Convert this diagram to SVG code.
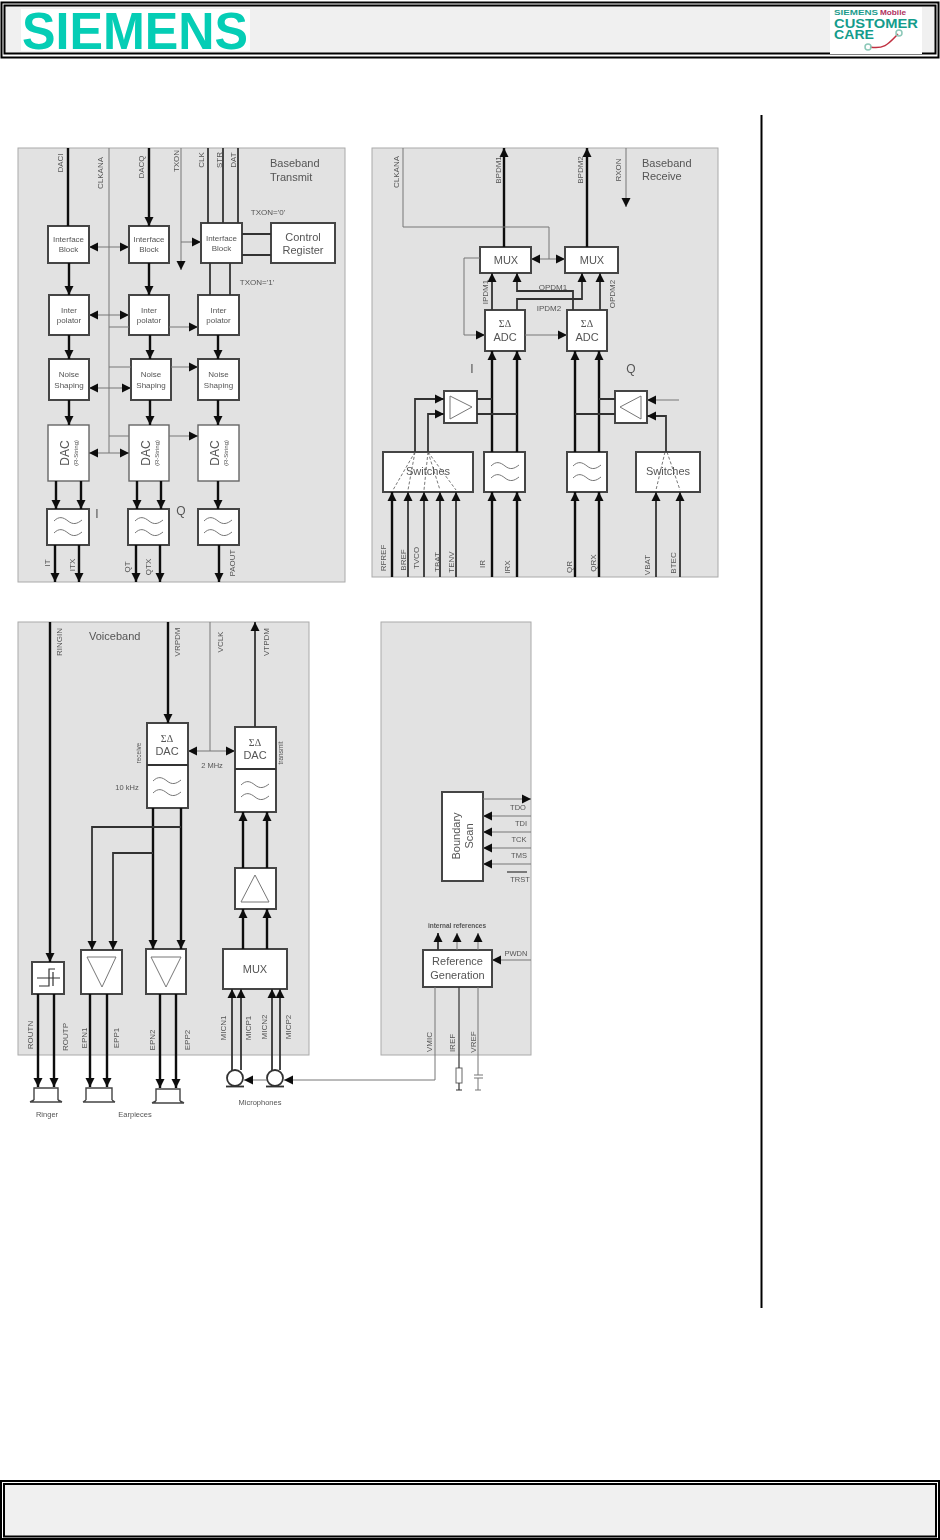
<svg xmlns="http://www.w3.org/2000/svg" xmlns:xlink="http://www.w3.org/1999/xlink" width="940" height="1540" viewBox="0 0 940 1540">
<style>
text{font-family:"Liberation Sans",Arial,sans-serif;fill:#555}
.panel{fill:#e2e2e2;stroke:#aaa;stroke-width:1}
.b{fill:#fff;stroke:#444;stroke-width:2}
.b1{fill:#fff;stroke:#666;stroke-width:1.4}
.sym{fill:none;stroke:#777;stroke-width:1}
.c{text-anchor:middle}
.s8{font-size:8px}.s7{font-size:7.5px}.s11{font-size:11px}.s12{font-size:12px}
.sig{font-size:8px;text-anchor:middle}
.t{fill:none;stroke:#111;stroke-width:2.4}
.m{fill:none;stroke:#333;stroke-width:1.8}
.n{fill:none;stroke:#777;stroke-width:1}
.h{marker-end:url(#a)}
.d{marker-start:url(#s);marker-end:url(#a)}
.dash{fill:none;stroke:#555;stroke-width:.8;stroke-dasharray:3 2}
.sd{font-family:"Liberation Serif",serif;font-size:10px}
</style>
<defs>
<marker id="a" markerUnits="userSpaceOnUse" markerWidth="10" markerHeight="10" refX="9" refY="5" orient="auto"><path d="M0,0.5L9,5L0,9.5Z" fill="#111"/></marker>
<marker id="s" markerUnits="userSpaceOnUse" markerWidth="10" markerHeight="10" refX="0" refY="5" orient="auto"><path d="M9,0.5L0,5L9,9.5Z" fill="#111"/></marker>
<g id="wave"><path class="sym" d="M-14,-6C-9,-11 -5,-10 0,-6S9,-3 14,-7M-14,6C-9,1 -5,2 0,6S9,9 14,5"/></g>
<filter id="soft" filterUnits="userSpaceOnUse" x="0" y="100" width="940" height="1060"><feGaussianBlur stdDeviation="0.6"/></filter>
</defs>
<rect width="940" height="1540" fill="#fff"/>
<g id="header">
<rect x="1.5" y="2.5" width="937" height="55" fill="#fff" stroke="#000" stroke-width="2"/>
<rect x="4.5" y="5.5" width="931" height="48" fill="#f0f0f0" stroke="#000" stroke-width="2"/>
<rect x="21" y="9" width="229" height="42" fill="#fff"/>
<text x="22" y="49" font-size="52" font-weight="bold" textLength="226" lengthAdjust="spacingAndGlyphs" style="fill:#05cdb5">SIEMENS</text>
<rect x="830" y="7" width="92" height="47" fill="#fff"/>
<text x="834" y="15" font-size="7" font-weight="bold" textLength="44" lengthAdjust="spacingAndGlyphs" style="fill:#1c9c8c">SIEMENS</text>
<text x="880" y="15" font-size="7" font-weight="bold" textLength="26" lengthAdjust="spacingAndGlyphs" style="fill:#b03060">Mobile</text>
<text x="834" y="28" font-size="13.500" font-weight="bold" textLength="84" lengthAdjust="spacingAndGlyphs" style="fill:#149c8c">CUSTOMER</text>
<text x="834" y="39" font-size="13.500" font-weight="bold" textLength="40" lengthAdjust="spacingAndGlyphs" style="fill:#149c8c">CARE</text>
<path d="M870,47C885,50 890,42 898,34" fill="none" stroke="#c03040" stroke-width="1.5"/>
<circle cx="868" cy="47" r="3" fill="none" stroke="#8cc8b8" stroke-width="1.5"/>
<circle cx="899" cy="33" r="3" fill="none" stroke="#8cc8b8" stroke-width="1.5"/>
</g>
<rect id="margin-bar" x="760.5" y="115" width="2" height="1193" fill="#000"/>
<g id="footer">
<rect x="1" y="1481" width="938" height="58" fill="#fff" stroke="#000" stroke-width="2"/>
<rect x="4" y="1484" width="932" height="52.500" fill="#f0f0f0" stroke="#000" stroke-width="2"/>
</g>
<g filter="url(#soft)">
<rect id="panel-transmit" class="panel" x="18" y="148" width="327" height="434"/>
<rect id="panel-receive" class="panel" x="372" y="148" width="346" height="429"/>
<rect id="panel-voice" class="panel" x="18" y="622" width="291" height="433"/>
<rect id="panel-ref" class="panel" x="381" y="622" width="150" height="433"/>

<g id="tx-if1"><rect class="b" x="48" y="226" width="41" height="37"/><text class="c s8" x="68.500" y="242">Interface</text><text class="c s8" x="68.500" y="252">Block</text></g>
<g id="tx-if2"><rect class="b" x="129" y="226" width="40" height="37"/><text class="c s8" x="149" y="242">Interface</text><text class="c s8" x="149" y="252">Block</text></g>
<g id="tx-if3"><rect class="b" x="201" y="223" width="41" height="40"/><text class="c s8" x="221.500" y="241">Interface</text><text class="c s8" x="221.500" y="251">Block</text></g>
<g id="tx-ctrl"><rect class="b" x="271" y="223" width="64" height="40"/><text class="c s11" x="303" y="241">Control</text><text class="c s11" x="303" y="254">Register</text></g>
<g id="tx-int1"><rect class="b" x="49" y="295" width="40" height="40"/><text class="c s8" x="69" y="313">Inter</text><text class="c s8" x="69" y="323">polator</text></g>
<g id="tx-int2"><rect class="b" x="129" y="295" width="40" height="40"/><text class="c s8" x="149" y="313">Inter</text><text class="c s8" x="149" y="323">polator</text></g>
<g id="tx-int3"><rect class="b" x="198" y="295" width="41" height="40"/><text class="c s8" x="218.500" y="313">Inter</text><text class="c s8" x="218.500" y="323">polator</text></g>
<g id="tx-ns1"><rect class="b" x="49" y="359" width="40" height="41"/><text class="c s8" x="69" y="377">Noise</text><text class="c s8" x="69" y="388">Shaping</text></g>
<g id="tx-ns2"><rect class="b" x="131" y="359" width="40" height="41"/><text class="c s8" x="151" y="377">Noise</text><text class="c s8" x="151" y="388">Shaping</text></g>
<g id="tx-ns3"><rect class="b" x="198" y="359" width="41" height="41"/><text class="c s8" x="218.500" y="377">Noise</text><text class="c s8" x="218.500" y="388">Shaping</text></g>
<g id="tx-dac1"><rect class="b1" x="48" y="425" width="41" height="56"/><text class="c s12" transform="translate(69,453) rotate(-90)">DAC</text><text class="c" font-size="6" transform="translate(78,453) rotate(-90)">(R-String)</text></g>
<g id="tx-dac2"><rect class="b1" x="129" y="425" width="40" height="56"/><text class="c s12" transform="translate(150,453) rotate(-90)">DAC</text><text class="c" font-size="6" transform="translate(159,453) rotate(-90)">(R-String)</text></g>
<g id="tx-dac3"><rect class="b1" x="198" y="425" width="41" height="56"/><text class="c s12" transform="translate(219,453) rotate(-90)">DAC</text><text class="c" font-size="6" transform="translate(228,453) rotate(-90)">(R-String)</text></g>
<g id="tx-f1"><rect class="b" x="47" y="509" width="42" height="36"/><use href="#wave" x="68" y="527"/></g>
<g id="tx-f2"><rect class="b" x="128" y="509" width="41" height="36"/><use href="#wave" x="149" y="527"/></g>
<g id="tx-f3"><rect class="b" x="198" y="509" width="41" height="36"/><use href="#wave" x="218" y="527"/></g>

<g id="rx-mux1"><rect class="b" x="480" y="247" width="51" height="26"/><text class="c s11" x="506" y="264">MUX</text></g>
<g id="rx-mux2"><rect class="b" x="565" y="247" width="53" height="26"/><text class="c s11" x="592" y="264">MUX</text></g>
<g id="rx-adc1"><rect class="b" x="485" y="310" width="40" height="41"/><text class="c sd" x="505" y="327">ΣΔ</text><text class="c s11" x="505" y="341">ADC</text></g>
<g id="rx-adc2"><rect class="b" x="567" y="310" width="40" height="41"/><text class="c sd" x="587" y="327">ΣΔ</text><text class="c s11" x="587" y="341">ADC</text></g>
<g id="rx-amp1"><rect class="b" x="444" y="391" width="33" height="32"/><path class="sym" d="M450,396L472,407L450,419Z"/></g>
<g id="rx-amp2"><rect class="b" x="615" y="391" width="32" height="32"/><path class="sym" d="M641,396L620,407L641,419Z"/></g>
<g id="rx-sw1"><rect class="b" x="383" y="452" width="90" height="40"/><text class="c s11" x="428" y="475">Switches</text></g>
<g id="rx-f1"><rect class="b" x="484" y="452" width="41" height="40"/><use href="#wave" x="505" y="472"/></g>
<g id="rx-f2"><rect class="b" x="567" y="452" width="40" height="40"/><use href="#wave" x="587" y="472"/></g>
<g id="rx-sw2"><rect class="b" x="636" y="452" width="64" height="40"/><text class="c s11" x="668" y="475">Switches</text></g>

<g id="vb-dac1"><rect class="b" x="147" y="723" width="41" height="85"/><path class="m" d="M147,765H188"/><text class="c sd" x="167" y="742">ΣΔ</text><text class="c s11" x="167" y="755">DAC</text><use href="#wave" x="167" y="787"/></g>
<g id="vb-dac2"><rect class="b" x="235" y="727" width="41" height="85"/><path class="m" d="M235,769H276"/><text class="c sd" x="255" y="746">ΣΔ</text><text class="c s11" x="255" y="759">DAC</text><use href="#wave" x="255" y="791"/></g>
<g id="vb-amp"><rect class="b" x="235" y="868" width="41" height="41"/><path class="sym" d="M241,902H269L255,875Z"/></g>
<g id="vb-mux"><rect class="b" x="223" y="949" width="64" height="40"/><text class="c s11" x="255" y="973">MUX</text></g>
<g id="vb-ring"><rect class="b" x="32" y="962" width="32" height="32"/><path fill="none" stroke="#333" stroke-width="1.2" d="M37,978H60M39,986H49V969H55M53,986V972"/></g>
<g id="vb-ear1"><rect class="b" x="81" y="950" width="41" height="44"/><path class="sym" d="M87,957H116L102,987Z"/></g>
<g id="vb-ear2"><rect class="b" x="146" y="949" width="40" height="45"/><path class="sym" d="M151,957H181L166,987Z"/></g>
<g id="mic1"><circle cx="235" cy="1078" r="8" fill="#fff" stroke="#333" stroke-width="1.8"/><path class="m" d="M226,1086.500H244"/></g>
<g id="mic2"><circle cx="275" cy="1078" r="8" fill="#fff" stroke="#333" stroke-width="1.8"/><path class="m" d="M266,1086.500H284"/></g>
<g id="ringer"><path fill="none" stroke="#444" stroke-width="1.4" d="M34,1100V1088H58V1100M30,1102H62M34,1100L30,1102M58,1100L62,1102"/></g>
<g id="ear1"><path fill="none" stroke="#444" stroke-width="1.4" d="M86,1100V1088H112V1100M83,1102H115M86,1100L83,1102M112,1100L115,1102"/></g>
<g id="ear2"><path fill="none" stroke="#444" stroke-width="1.4" d="M156,1101V1089H180V1101M152,1103H184M156,1101L152,1103M180,1101L184,1103"/></g>

<g id="bscan"><rect class="b" x="442" y="792" width="41" height="89"/><text class="c s11" transform="translate(460,836) rotate(-90)">Boundary</text><text class="c s11" transform="translate(473,836) rotate(-90)">Scan</text></g>
<g id="refgen"><rect class="b" x="423" y="950" width="69" height="37"/><text class="c s11" x="457.500" y="965">Reference</text><text class="c s11" x="457.500" y="979">Generation</text></g>
<g id="res"><rect x="456" y="1068" width="6" height="15" fill="#fff" stroke="#666" stroke-width="1"/></g>
<g id="cap"><path class="n" d="M474,1075H483M474,1078H483"/></g>

<g id="connectors">
<path class="t h" d="M68,148V226M149,148V226"/>
<path class="n h" d="M181,148V270"/>
<path class="n" d="M109,148V453"/>
<path class="m" d="M208,148V223M223,148V223M238,148V223M242,234H271M242,255H271M210,263V295M230,263V295"/>
<path class="n h" d="M181,242H201"/>
<path class="n d" d="M89,247H129"/><path class="n d" d="M89,315H129"/><path class="n d" d="M89,388H131"/><path class="n d" d="M89,453H129"/>
<path class="n" d="M109,327H129M109,367H131M109,436H129"/>
<path class="n h" d="M169,327H198"/><path class="n h" d="M171,367H198"/><path class="n h" d="M169,436H198"/>
<path class="t h" d="M69,263V295"/><path class="t h" d="M149,263V295"/>
<path class="t h" d="M69,335V359"/><path class="t h" d="M150,335V359"/><path class="t h" d="M218,335V359"/>
<path class="t h" d="M69,400V425"/><path class="t h" d="M150,400V425"/><path class="t h" d="M218,400V425"/>
<path class="t h" d="M56,481V509"/><path class="t h" d="M81,481V509"/><path class="t h" d="M137,481V509"/><path class="t h" d="M161,481V509"/><path class="t h" d="M218,481V509"/>
<path class="t h" d="M55,545V582"/><path class="t h" d="M79,545V582"/><path class="t h" d="M136,545V582"/><path class="t h" d="M160,545V582"/><path class="t h" d="M219,545V582"/>

<path class="t h" d="M504,247V148"/><path class="t h" d="M587,247V148"/>
<path class="n h" d="M626,148V207"/>
<path class="n" d="M403,148V227H549V259"/>
<path class="n d" d="M531,259H565"/>
<path class="n h" d="M480,258H464V335H485"/>
<path class="n h" d="M525,335H567"/>
<path class="m h" d="M492,310V273"/>
<path class="m h" d="M573,310V291H517V273"/>
<path class="m h" d="M517,310V299H582V273"/>
<path class="m h" d="M600,310V273"/>
<path class="t h" d="M492,452V351"/><path class="t h" d="M517,452V351"/><path class="t h" d="M575,452V351"/><path class="t h" d="M599,452V351"/>
<path class="m" d="M477,399H492M477,414H517M615,399H599M615,414H575"/>
<path class="m h" d="M415,452V399H444"/><path class="m h" d="M428,452V414H444"/>
<path class="n h" d="M679,400H647"/><path class="m h" d="M666,452V416H647"/>
<path class="dash" d="M415,452L393,490M415,452L408,490M428,452L424,490M428,452L440,490M428,452L456,490M665,452L656,490M667,452L680,490"/>
<path class="t h" d="M392,577V492"/><path class="m h" d="M408,577V492"/><path class="m h" d="M424,577V492"/><path class="m h" d="M440,577V492"/><path class="m h" d="M456,577V492"/>
<path class="t h" d="M492,577V492"/><path class="t h" d="M517,577V492"/><path class="t h" d="M575,577V492"/><path class="t h" d="M599,577V492"/>
<path class="m h" d="M656,577V492"/><path class="m h" d="M680,577V492"/>

<path class="t h" d="M50,622V962"/>
<path class="t h" d="M168,622V723"/>
<path class="n" d="M210,622V751"/>
<path class="n d" d="M188,751H235"/>
<path class="m h" d="M255,727V622"/>
<path class="t h" d="M243,868V812"/><path class="t h" d="M267,868V812"/>
<path class="t h" d="M243,949V909"/><path class="t h" d="M267,949V909"/>
<path class="t h" d="M153,808V949"/><path class="t h" d="M181,808V949"/>
<path class="m h" d="M181,827H92V950"/>
<path class="m h" d="M153,853H113V950"/>
<path class="m h" d="M232,1070V989"/><path class="m h" d="M241,1070V989"/><path class="m h" d="M272,1070V989"/><path class="m h" d="M280,1070V989"/>
<path class="t h" d="M38,994V1087"/><path class="t h" d="M54,994V1087"/><path class="t h" d="M90,994V1087"/><path class="t h" d="M107,994V1087"/><path class="t h" d="M160,994V1088"/><path class="t h" d="M176,994V1088"/>
<path class="n h" d="M435,987V1080H284"/>
<path class="n h" d="M267,1080H244"/>

<path class="n h" d="M483,799H531"/>
<path class="n h" d="M531,816H483"/><path class="n h" d="M531,832H483"/><path class="n h" d="M531,848H483"/><path class="n h" d="M531,864H483"/>
<path class="m h" d="M438,950V933"/><path class="n h" d="M457,950V933"/><path class="n h" d="M478,950V933"/>
<path class="n h" d="M531,960H492"/>
<path class="m" d="M459,987V1068M459,1083V1090M456,1090H462" style="stroke-width:1.2"/>
<path class="n" d="M478,987V1075M478,1078V1090M475,1090H481"/>
<path d="M507,872H527" stroke="#333" stroke-width="1.2" fill="none"/>
</g>

<g id="labels">
<text class="s11" x="270" y="167">Baseband</text><text class="s11" x="270" y="181">Transmit</text>
<text class="s11" x="642" y="167">Baseband</text><text class="s11" x="642" y="180">Receive</text>
<text class="s11" x="89" y="640">Voiceband</text>
<text class="c s8" x="268" y="215">TXON='0'</text><text class="c s8" x="257" y="285">TXON='1'</text>
<text class="c s12" x="97" y="518">I</text><text class="c s12" x="181" y="515">Q</text>
<text class="c s12" x="472" y="373">I</text><text class="c s12" x="631" y="373">Q</text>
<text class="c s8" x="553" y="290">OPDM1</text><text class="c s8" x="549" y="311">IPDM2</text>
<text class="c s7" x="212" y="768">2 MHz</text><text class="c s7" x="127" y="790">10 kHz</text>
<text class="c s7" x="47" y="1117">Ringer</text><text class="c s7" x="135" y="1117">Earpieces</text><text class="c s7" x="260" y="1105">Microphones</text>
<text class="c s7" x="518" y="810">TDO</text><text class="c s7" x="521" y="826">TDI</text><text class="c s7" x="519" y="842">TCK</text><text class="c s7" x="519" y="858">TMS</text><text class="c s7" x="520" y="882">TRST</text>
<text class="c s7" x="516" y="956">PWDN</text>
<text class="c" font-size="6.500" font-weight="bold" x="457" y="928">internal references</text>
<g class="rot">
<text class="sig" transform="translate(63,163) rotate(-90)">DACI</text>
<text class="sig" transform="translate(144,167) rotate(-90)">DACQ</text>
<text class="sig" transform="translate(103,173) rotate(-90)">CLKANA</text>
<text class="sig" transform="translate(179,161) rotate(-90)">TXON</text>
<text class="sig" transform="translate(204,160) rotate(-90)">CLK</text>
<text class="sig" transform="translate(222,160) rotate(-90)">STR</text>
<text class="sig" transform="translate(236,160) rotate(-90)">DAT</text>
<text class="sig" transform="translate(50,563) rotate(-90)">IT</text>
<text class="sig" transform="translate(75,565) rotate(-90)">ITX</text>
<text class="sig" transform="translate(130,567) rotate(-90)">QT</text>
<text class="sig" transform="translate(151,567) rotate(-90)">QTX</text>
<text class="sig" transform="translate(235,563) rotate(-90)">PAOUT</text>
<text class="sig" transform="translate(399,172) rotate(-90)">CLKANA</text>
<text class="sig" transform="translate(501,170) rotate(-90)">BPDM1</text>
<text class="sig" transform="translate(583,170) rotate(-90)">BPDM2</text>
<text class="sig" transform="translate(621,170) rotate(-90)">RXON</text>
<text class="sig" transform="translate(488,292) rotate(-90)">IPDM1</text>
<text class="sig" transform="translate(615,294) rotate(-90)">OPDM2</text>
<text class="sig" transform="translate(386,558) rotate(-90)">RFREF</text>
<text class="sig" transform="translate(406,560) rotate(-90)">BREF</text>
<text class="sig" transform="translate(419,558) rotate(-90)">TVCO</text>
<text class="sig" transform="translate(440,562) rotate(-90)">TBAT</text>
<text class="sig" transform="translate(454,562) rotate(-90)">TENV</text>
<text class="sig" transform="translate(485,564) rotate(-90)">IR</text>
<text class="sig" transform="translate(510,567) rotate(-90)">IRX</text>
<text class="sig" transform="translate(572,567) rotate(-90)">QR</text>
<text class="sig" transform="translate(596,563) rotate(-90)">QRX</text>
<text class="sig" transform="translate(650,565) rotate(-90)">VBAT</text>
<text class="sig" transform="translate(676,563) rotate(-90)">BTEC</text>
<text class="sig" transform="translate(62,642) rotate(-90)">RINGIN</text>
<text class="sig" transform="translate(180,642) rotate(-90)">VRPDM</text>
<text class="sig" transform="translate(223,642) rotate(-90)">VCLK</text>
<text class="sig" transform="translate(269,642) rotate(-90)">VTPDM</text>
<text class="c" font-size="6.500" transform="translate(141,753) rotate(-90)">receive</text>
<text class="c" font-size="6.500" transform="translate(283,753) rotate(-90)">transmit</text>
<text class="sig" transform="translate(33,1035) rotate(-90)">ROUTN</text>
<text class="sig" transform="translate(68,1037) rotate(-90)">ROUTP</text>
<text class="sig" transform="translate(87,1038) rotate(-90)">EPN1</text>
<text class="sig" transform="translate(119,1038) rotate(-90)">EPP1</text>
<text class="sig" transform="translate(155,1040) rotate(-90)">EPN2</text>
<text class="sig" transform="translate(190,1040) rotate(-90)">EPP2</text>
<text class="sig" transform="translate(226,1028) rotate(-90)">MICN1</text>
<text class="sig" transform="translate(251,1028) rotate(-90)">MICP1</text>
<text class="sig" transform="translate(267,1027) rotate(-90)">MICN2</text>
<text class="sig" transform="translate(291,1027) rotate(-90)">MICP2</text>
<text class="sig" transform="translate(432,1042) rotate(-90)">VMIC</text>
<text class="sig" transform="translate(455,1043) rotate(-90)">IREF</text>
<text class="sig" transform="translate(476,1042) rotate(-90)">VREF</text>
</g>
</g>
</g>
</svg>
